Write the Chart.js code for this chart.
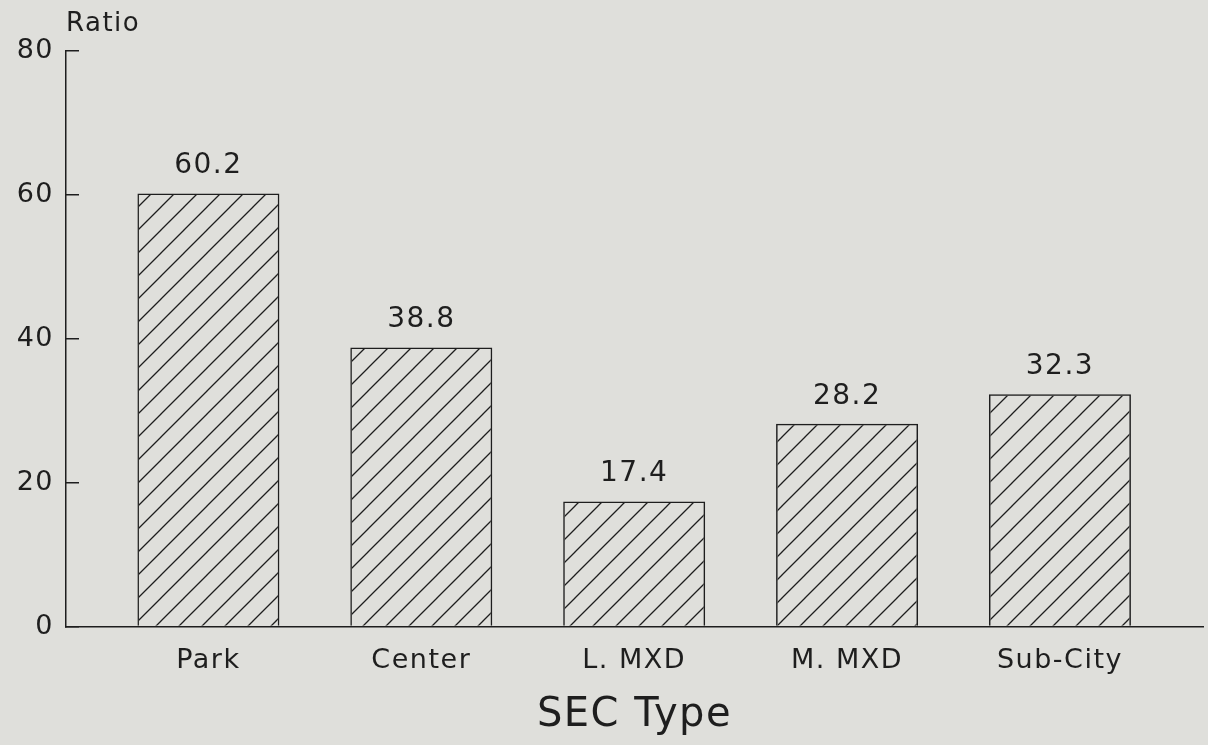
<!DOCTYPE html>
<html>
<head>
<meta charset="utf-8">
<script src="https://cdn.jsdelivr.net/npm/chart.js@4.4.1/dist/chart.umd.min.js"></script>
<style>
  html, body { margin: 0; padding: 0; background: #dfdfdb; }
  #wrap { width: 1208px; height: 745px; position: relative; }
</style>
</head>
<body>
<div id="wrap"><canvas id="c" width="1208" height="745"></canvas></div>
<script>
// Ratio by SEC type
const categories = ['Park', 'Center', 'L. MXD', 'M. MXD', 'Sub-City'];
const ratios = [60.2, 38.8, 17.4, 28.2, 32.3];
const yTicks = [0, 20, 40, 60, 80];
const yTitle = 'Ratio';
const xTitle = 'SEC Type';

const INK = '#1e1e1e';
const FONT = "'DejaVu Sans', 'Liberation Sans', sans-serif";

const canvas = document.getElementById('c');

// diagonal "/" hatch fill for the bars
function makeHatch() {
  const s = 23;
  const tile = document.createElement('canvas');
  tile.width = s; tile.height = s;
  const g = tile.getContext('2d');
  g.strokeStyle = INK;
  g.lineWidth = 1.3;
  g.beginPath();
  g.moveTo(-2, s + 2); g.lineTo(s + 2, -2);
  g.moveTo(-2, 2); g.lineTo(2, -2);
  g.moveTo(s - 2, s + 2); g.lineTo(s + 2, s - 2);
  g.stroke();
  return canvas.getContext('2d').createPattern(tile, 'repeat');
}

const textSpacing = {
  id: 'textSpacing',
  beforeDraw(chart) {
    if ('letterSpacing' in chart.ctx) chart.ctx.letterSpacing = '1.5px';
  }
};

// value printed above each bar
const valueLabels = {
  id: 'valueLabels',
  afterDatasetsDraw(chart) {
    const ctx = chart.ctx;
    const meta = chart.getDatasetMeta(0);
    ctx.save();
    ctx.font = '28px ' + FONT;
    ctx.fillStyle = INK;
    ctx.textAlign = 'center';
    ctx.textBaseline = 'alphabetic';
    meta.data.forEach((bar, i) => {
      ctx.fillText(ratios[i].toFixed(1), bar.x, bar.y - 20);
    });
    ctx.restore();
  }
};

new Chart(canvas, {
  type: 'bar',
  data: {
    datasets: [{
      data: ratios.map((v, i) => ({ x: i, y: v })),
      backgroundColor: makeHatch(),
      borderColor: INK,
      borderWidth: 1.5,
      categoryPercentage: 1,
      barPercentage: 0.667
    }]
  },
  options: {
    responsive: false,
    animation: false,
    layout: { padding: { left: 0, right: 5, top: 0, bottom: 0 } },
    plugins: {
      legend: { display: false },
      tooltip: { enabled: false },
      title: {
        display: true,
        text: yTitle,
        align: 'start',
        fullSize: false,
        color: INK,
        font: { family: FONT, size: 26, weight: 'normal', lineHeight: 1.15 },
        padding: { top: 9, bottom: 12 }
      }
    },
    scales: {
      x: {
        type: 'linear',
        offset: false,
        min: -0.669,
        max: 4.672,
        afterBuildTicks: s => { s.ticks = categories.map((_, i) => ({ value: i })); },
        ticks: {
          callback: v => categories[v],
          color: INK,
          font: { family: FONT, size: 27 },
          padding: 18,
          maxRotation: 0,
          autoSkip: false
        },
        grid: { display: false, drawTicks: false, offset: false },
        border: { display: true, color: INK, width: 1.5 },
        title: {
          display: true,
          text: xTitle,
          color: INK,
          font: { family: FONT, size: 40, lineHeight: 1.0 },
          padding: { top: 1, bottom: 9 }
        }
      },
      y: {
        min: 0,
        max: 80,
        afterBuildTicks: s => { s.ticks = yTicks.map(v => ({ value: v })); },
        ticks: { color: INK, font: { family: FONT, size: 27 }, padding: 25 },
        grid: { drawOnChartArea: false, drawTicks: true, tickLength: -13, color: INK, lineWidth: 1.5 },
        border: { display: true, color: INK, width: 1.5 },
        afterFit: s => { s.width = 66; }
      }
    }
  },
  plugins: [textSpacing, valueLabels]
});
</script>
</body>
</html>
